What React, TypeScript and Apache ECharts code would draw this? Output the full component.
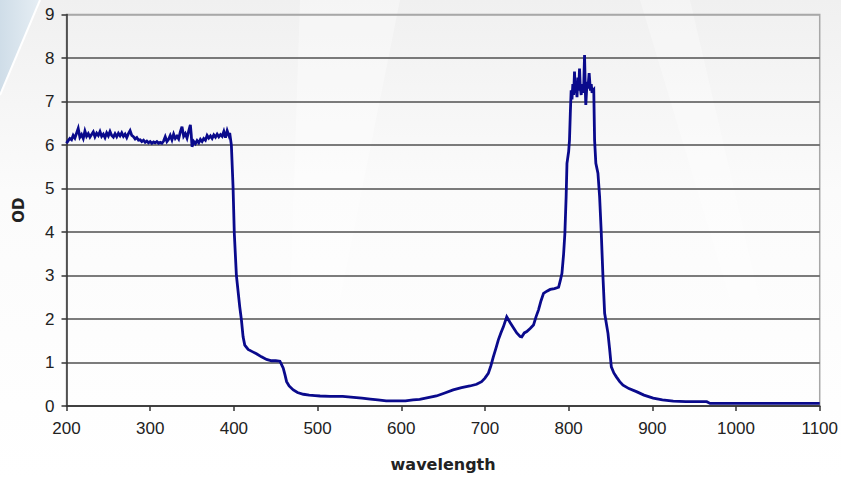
import React, { useEffect, useRef } from "react";
import * as echarts from "echarts";

const wavelength: number[] = [
  200, 202, 204, 206, 208, 210, 212, 214, 216, 218, 220, 222, 224, 226, 228, 230, 232, 234, 236, 238,
  240, 242, 244, 246, 248, 250, 252, 254, 256, 258, 260, 262, 264, 266, 268, 270, 272, 274, 276, 278,
  280, 282, 284, 286, 288, 290, 292, 294, 296, 298, 300, 302, 304, 306, 308, 310, 312, 314, 316, 318,
  320, 322, 324, 326, 328, 330, 332, 334, 336, 338, 340, 342, 344, 346, 348, 349, 350, 352, 354, 356,
  358, 360, 362, 364, 366, 368, 370, 372, 374, 376, 378, 380, 382, 384, 386, 388, 390, 392, 394, 395,
  397, 399, 400.5, 403, 407, 409, 411, 413, 417, 422, 427, 433, 439, 445, 450, 455, 457, 459, 461, 463,
  466, 471, 476, 483, 490, 497, 503, 515, 530, 543, 553, 563, 572, 582, 595, 605, 614, 622, 632, 642,
  652, 662, 672, 682, 690, 696, 700, 704, 707, 710, 713, 716, 719, 722, 726, 730, 734, 738, 742, 744,
  747, 750, 754, 758, 761, 764, 767, 770, 774, 778, 783, 788, 790, 792, 794, 795.5, 797, 798, 800, 801,
  802, 803, 804, 805, 806, 807, 808, 809, 810, 811, 812, 813, 814, 815, 816, 817, 818, 819, 820, 820.5,
  821, 822, 823, 824.5, 826, 827, 828, 829, 830, 831, 832.5, 835, 837, 839, 841, 843, 847, 849, 851, 854,
  857, 861, 865, 872, 881, 890, 901, 912, 925, 940, 955, 965, 969, 1000, 1050, 1100,
];

const od: number[] = [
  6.04, 6.1, 6.15, 6.12, 6.22, 6.16, 6.27, 6.38, 6.18, 6.24, 6.15, 6.32, 6.2, 6.26, 6.18, 6.24, 6.3, 6.19, 6.27, 6.22,
  6.31, 6.2, 6.25, 6.17, 6.28, 6.21, 6.31, 6.22, 6.18, 6.26, 6.19, 6.27, 6.21, 6.28, 6.2, 6.25, 6.17, 6.26, 6.33, 6.22,
  6.19, 6.14, 6.17, 6.11, 6.12, 6.08, 6.11, 6.06, 6.09, 6.05, 6.08, 6.04, 6.07, 6.05, 6.08, 6.04, 6.06, 6.04, 6.09, 6.19,
  6.08, 6.13, 6.22, 6.12, 6.25, 6.15, 6.2, 6.14, 6.3, 6.42, 6.2, 6.26, 6.16, 6.32, 6.46, 6.25, 5.96, 6.08, 6.03, 6.1,
  6.05, 6.13, 6.08, 6.15, 6.11, 6.22, 6.16, 6.21, 6.15, 6.23, 6.18, 6.25, 6.19, 6.24, 6.2, 6.31, 6.17, 6.33, 6.22, 6.28,
  6.0, 5.04, 3.97, 3.0, 2.28, 1.98, 1.59, 1.4, 1.3, 1.25, 1.2, 1.13, 1.07, 1.04, 1.04, 1.03, 0.95, 0.87, 0.72, 0.56,
  0.46, 0.37, 0.31, 0.27, 0.25, 0.24, 0.23, 0.22, 0.22, 0.2, 0.18, 0.16, 0.14, 0.12, 0.12, 0.12, 0.14, 0.15, 0.19, 0.23,
  0.3, 0.37, 0.42, 0.46, 0.5, 0.56, 0.64, 0.75, 0.92, 1.13, 1.32, 1.52, 1.68, 1.82, 2.05, 1.92, 1.8, 1.68, 1.6, 1.59,
  1.68, 1.71, 1.78, 1.86, 2.05, 2.21, 2.42, 2.59, 2.64, 2.68, 2.7, 2.73, 2.88, 3.05, 3.5, 3.97, 4.81, 5.58, 5.85, 6.11,
  6.73, 7.26, 7.05, 7.4, 7.15, 7.69, 7.2, 7.35, 7.1, 7.55, 7.25, 7.76, 7.3, 7.15, 7.4, 7.2, 7.35, 8.07, 7.2, 6.92,
  7.1, 7.45, 7.3, 7.65, 7.25, 7.4, 7.2, 7.26, 7.28, 6.11, 5.58, 5.35, 4.81, 3.97, 2.97, 2.13, 1.67, 1.3, 0.9, 0.76,
  0.67, 0.56, 0.48, 0.4, 0.33, 0.25, 0.18, 0.14, 0.11, 0.1, 0.1, 0.1, 0.06, 0.06, 0.06, 0.06,
];

const xTicks = { min: 200, max: 1100, interval: 100 };
const yTicks = { min: 0, max: 9, interval: 1 };
const xTitle = "wavelength";
const yTitle = "OD";

export default function App() {
  const ref = useRef<HTMLDivElement>(null);
  useEffect(() => {
    document.body.style.margin = "0";
    const chart = echarts.init(ref.current!, undefined, { renderer: "svg" });
    const data = wavelength.map((w, i) => [w, od[i]]);
    const gridColors = ["#505050", "#505050", "#505050", "#505050", "#505050", "#505050", "#505050", "#505050", "#505050", "#a8a8a8"];
    chart.setOption({
      animation: false,
      backgroundColor: "#ffffff",
      graphic: [
        {
          type: "rect",
          z: -100,
          silent: true,
          shape: { x: 0, y: 0, width: 841, height: 478 },
          style: {
            fill: new echarts.graphic.LinearGradient(0, 0, 0, 1, [
              { offset: 0, color: "#f0f0f0" },
              { offset: 0.4, color: "#fbfbfb" },
              { offset: 1, color: "#ffffff" },
            ]),
          },
        },
        {
          type: "polygon",
          z: -99,
          silent: true,
          shape: { points: [[300, 0], [400, 0], [340, 300], [290, 300]] },
          style: { fill: "rgba(255,255,255,0.35)" },
        },
        {
          type: "polygon",
          z: -99,
          silent: true,
          shape: { points: [[640, 0], [690, 0], [760, 300], [730, 300]] },
          style: { fill: "rgba(255,255,255,0.3)" },
        },
        {
          type: "polygon",
          z: -98,
          silent: true,
          shape: { points: [[0, 0], [40, 0], [0, 95]] },
          style: {
            fill: new echarts.graphic.LinearGradient(0, 0, 1, 0, [
              { offset: 0, color: "#cfdde8" },
              { offset: 1, color: "#e6eef4" },
            ]),
          },
        },
        {
          type: "line",
          z: -97,
          silent: true,
          shape: { x1: 40, y1: 0, x2: 0, y2: 95 },
          style: { stroke: "#ffffff", lineWidth: 2 },
        },
      ],
      grid: {
        left: 66.5,
        right: 21,
        top: 14.5,
        bottom: 72,
        show: true,
        borderColor: "#a8a8a8",
        borderWidth: 1.5,
        backgroundColor: "transparent",
      },
      xAxis: {
        type: "value",
        min: xTicks.min,
        max: xTicks.max,
        interval: xTicks.interval,
        name: xTitle,
        nameLocation: "middle",
        nameGap: 50,
        nameTextStyle: { fontFamily: "DejaVu Sans", fontWeight: "bold", fontSize: 16, color: "#222" },
        axisLine: { show: true, onZero: false, lineStyle: { color: "#333", width: 1.5 } },
        axisTick: { show: true, inside: false, length: 5, lineStyle: { color: "#333", width: 1.5 } },
        axisLabel: {
          margin: 14,
          fontFamily: "Liberation Sans",
          fontSize: 17,
          color: "#222",
          formatter: (v: number) => String(v),
        },
        splitLine: { show: false },
      },
      yAxis: {
        type: "value",
        min: yTicks.min,
        max: yTicks.max,
        interval: yTicks.interval,
        name: yTitle,
        nameLocation: "middle",
        nameGap: 40,
        nameRotate: 90,
        nameTextStyle: { fontFamily: "DejaVu Sans", fontWeight: "bold", fontSize: 15, color: "#222" },
        axisLine: { show: true, lineStyle: { color: "#333", width: 1.5 } },
        axisTick: { show: true, inside: false, length: 5, lineStyle: { color: "#333", width: 1.5 } },
        axisLabel: {
          margin: 12,
          fontFamily: "Liberation Sans",
          fontSize: 17,
          color: "#222",
          formatter: (v: number) => String(v),
        },
        splitLine: { show: true, lineStyle: { color: gridColors, width: 1.5 } },
      },
      series: [
        {
          type: "line",
          data,
          showSymbol: false,
          symbol: "none",
          lineStyle: { color: "#0a0a8c", width: 2.8, join: "miter" },
          z: 5,
        },
      ],
    });
    return () => chart.dispose();
  }, []);
  return <div ref={ref} style={{ width: 841, height: 478 }} />;
}
